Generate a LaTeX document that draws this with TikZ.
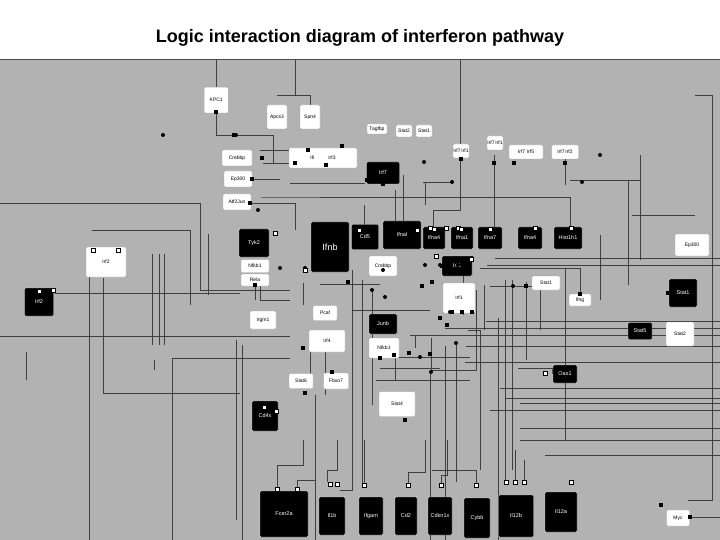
\documentclass[tikz,border=0pt]{standalone}
\usepackage{fontspec}
\setmainfont{Liberation Sans}
\begin{document}
\begin{tikzpicture}[x=1pt,y=-1pt,
 wb/.style={draw=gray!70,fill=white,rounded corners=1pt,inner sep=0pt,font=\fontsize{5}{6}\selectfont},
 bb/.style={draw=gray!40,fill=black,text=white,rounded corners=1pt,inner sep=0pt,font=\fontsize{5.5}{6}\selectfont},
 ln/.style={draw=black!75,line width=0.8pt},
 dt/.style={circle,fill=black,inner sep=0pt,minimum size=4pt},
 pt/.style={fill=black,inner sep=0pt,minimum size=4pt},
 wpt/.style={fill=white,draw=black,inner sep=0pt,minimum size=4pt}]
\useasboundingbox (0,0) rectangle (720,540);
\fill[white] (0,0) rectangle (720,60);
\fill[black!30] (0,60) rectangle (720,540);
\draw[black!70,line width=1pt] (0,60) -- (720,60);
\node[font=\bfseries\fontsize{18}{21}\selectfont] (title) at (360,38) {Logic interaction diagram of interferon pathway};
% ---------- connectors (drawn first) ----------
\coordinate (j1) at (295,95);
\draw[ln] (216,60) -- (216,88);
\draw[ln] (295,60) -- (j1);
\draw[ln] (277,95) -- (310,95) -- (310,105);
\draw[ln] (216,113) -- (216,135) -- (273,135) -- (273,163) -- (295,163);
\draw[ln] (260,150) -- (320,150);
\draw[ln] (263,163) -- (280,163);
\draw[ln] (252,179) -- (280,179);
\draw[ln] (290,183) -- (365,183);
\draw[ln] (250,203) -- (295,203) -- (295,230);
\draw[ln] (460,60) -- (460,210) -- (433,210) -- (433,228);
\draw[ln] (261,197) -- (540,197) -- (570,197);
\draw[ln] (320,197) -- (570,197) -- (570,228);
\draw[ln] (403,175) -- (403,228);
\draw[ln] (395,190) -- (395,228);
\draw[ln] (425,182) -- (425,205);
\draw[ln] (423,182) -- (450,182);
\draw[ln] (565,157) -- (565,185);
\draw[ln] (494,155) -- (494,228);
\draw[ln] (364,205) -- (364,225);
\draw[ln] (0,203) -- (200,203) -- (200,290) -- (290,290);
\draw[ln] (92,230) -- (190,230) -- (190,305);
\draw[ln] (55,293) -- (240,293);
\draw[ln] (0,336) -- (290,336);
\draw[ln] (89,277) -- (89,540);
\draw[ln] (103,278) -- (103,393) -- (240,393);
\draw[ln] (172,358) -- (172,540);
\draw[ln] (172,358) -- (290,358);
\draw[ln] (152,254) -- (152,345);
\draw[ln] (159,254) -- (159,345);
\draw[ln] (164,254) -- (164,345);
\draw[ln] (208,234) -- (208,295);
\draw[ln] (236,340) -- (236,520);
\draw[ln] (242,345) -- (242,540);
\draw[ln] (26,352) -- (26,380);
\draw[ln] (154,360) -- (154,370);
\draw[ln] (260,285) -- (260,300) -- (290,300);
\draw[ln] (255,282) -- (255,300);
\draw[ln] (303,283) -- (303,305);
\draw[ln] (320,284) -- (380,284);
\draw[ln] (325,350) -- (325,395);
\draw[ln] (310,350) -- (310,380);
\draw[ln] (315,395) -- (315,540);
\draw[ln] (352,270) -- (352,490) -- (340,490);
\draw[ln] (362,280) -- (362,485);
\draw[ln] (372,289) -- (372,405);
\draw[ln] (352,310) -- (430,310);
\draw[ln] (395,355) -- (395,380);
\draw[ln] (380,357) -- (470,357);
\draw[ln] (380,368) -- (440,368);
\draw[ln] (376,380) -- (470,380);
\draw[ln] (415,335) -- (415,348);
\draw[ln] (431,338) -- (431,370) -- (476,370) -- (476,290);
\draw[ln] (430,370) -- (430,540);
\draw[ln] (445,346) -- (445,540);
\draw[ln] (456,345) -- (456,482);
\draw[ln] (463,270) -- (463,315);
\draw[ln] (484,285) -- (484,330);
\draw[ln] (468,330) -- (480,330) -- (480,470);
\draw[ln] (498,318) -- (498,540);
\draw[ln] (505,280) -- (505,470);
\draw[ln] (512,280) -- (512,470);
\draw[ln] (490,286) -- (541,286);
\draw[ln] (480,268) -- (580,268) -- (580,294);
\draw[ln] (495,258) -- (720,258);
\draw[ln] (487,265) -- (720,265);
\draw[ln] (486,321) -- (720,321);
\draw[ln] (445,328) -- (720,328);
\draw[ln] (410,335) -- (720,335);
\draw[ln] (466,346) -- (720,346);
\draw[ln] (465,362) -- (720,362);
\draw[ln] (518,368) -- (552,368) -- (552,374);
\draw[ln] (500,388) -- (720,388);
\draw[ln] (505,398) -- (720,398);
\draw[ln] (520,403) -- (720,403);
\draw[ln] (490,410) -- (720,410);
\draw[ln] (520,428) -- (720,428);
\draw[ln] (520,440) -- (720,440);
\draw[ln] (545,455) -- (720,455);
\draw[ln] (526,282) -- (526,360);
\draw[ln] (540,290) -- (540,330);
\draw[ln] (565,268) -- (565,440);
\draw[ln] (600,235) -- (600,300);
\draw[ln] (628,180) -- (628,285);
\draw[ln] (570,180) -- (640,180);
\draw[ln] (632,215) -- (695,215);
\draw[ln] (695,95) -- (712,95) -- (712,500) -- (688,500);
\draw[ln] (720,517) -- (690,517);
\draw[ln] (640,155) -- (640,260);
% bottom connectors
\draw[ln] (277,489) -- (277,465) -- (303,465) -- (303,440);
\draw[ln] (297,489) -- (297,480) -- (315,480) -- (315,440);
\draw[ln] (327,482) -- (327,470) -- (337,470) -- (337,440);
\draw[ln] (364,485) -- (364,440);
\draw[ln] (408,485) -- (408,472) -- (425,472) -- (425,440);
\draw[ln] (441,485) -- (441,475) -- (447,475) -- (447,440);
\draw[ln] (476,485) -- (476,470) -- (432,470);
\draw[ln] (505,482) -- (505,460);
\draw[ln] (515,482) -- (515,450);
\draw[ln] (524,482) -- (524,460);
% ---------- nodes ----------
\node[wb,minimum width=24pt,minimum height=26pt,anchor=north west,align=left] (kpc1) at (204,87) {KPC1};
\node[wb,minimum width=20pt,minimum height=24pt] (apcs3) at (277,117) {Apcs3};
\node[wb,minimum width=20pt,minimum height=24pt] (spn4) at (310,117) {Spn4};
\node[wb,minimum width=30pt,minimum height=16pt] (crebbp) at (237,158) {Crebbp};
\node[wb,minimum width=28pt,minimum height=16pt] (ep300a) at (238,179) {Ep300};
\node[wb,minimum width=28pt,minimum height=16pt] (atf2) at (237,202) {Atf2Jun};
\node[wb,minimum width=68pt,minimum height=20pt] (ifi) at (323,158) {Ifi\hspace{14pt}Irf3};
\node[wb,minimum width=20pt,minimum height=10pt] (tag) at (377,129) {Tagfbp};
\node[wb,minimum width=16pt,minimum height=12pt] (stat2a) at (404,131) {Stat2};
\node[wb,minimum width=16pt,minimum height=12pt] (stat1a) at (424,131) {Stat1};
\node[bb,minimum width=33pt,minimum height=22pt] (irf7b) at (383,173) {Irf7};
\node[wb,minimum width=16pt,minimum height=14pt] (p1) at (461,151) {Irf7\,Irf1};
\node[wb,minimum width=16pt,minimum height=14pt] (p2) at (495,143) {Irf7\,Irf1};
\node[wb,minimum width=34pt,minimum height=14pt] (p3) at (526,152) {Irf7\,\,Irf5};
\node[wb,minimum width=27pt,minimum height=14pt] (p4) at (565,152) {Irf7\,Irf2};
\node[bb,minimum width=30pt,minimum height=28pt] (tyk2) at (254,243) {Tyk2};
\node[bb,minimum width=38pt,minimum height=50pt] (ifnb) at (330,247) {\fontsize{9}{9}\selectfont Ifnb};
\node[bb,minimum width=27pt,minimum height=25pt] (cd5) at (365,237) {Cd5};
\node[bb,minimum width=38pt,minimum height=28pt] (ifnal) at (402,235) {Ifnal};
\node[bb,minimum width=22pt,minimum height=22pt] (ifna4) at (434,238) {Ifna4};
\node[bb,minimum width=22pt,minimum height=22pt] (ifna1) at (462,238) {Ifna1};
\node[bb,minimum width=24pt,minimum height=22pt] (ifna7) at (490,238) {Ifna7};
\node[bb,minimum width=24pt,minimum height=22pt] (ifna5) at (530,238) {Ifna4};
\node[bb,minimum width=28pt,minimum height=22pt] (hist) at (568,238) {Hist1h1};
\node[wb,minimum width=28pt,minimum height=13pt] (nfkb1) at (255,266) {Nfkb1};
\node[wb,minimum width=28pt,minimum height=12pt] (rela) at (255,280) {Rela};
\node[wb,minimum width=28pt,minimum height=20pt] (creb2) at (383,266) {Crebbp};
\node[bb,minimum width=30pt,minimum height=20pt] (irf1b) at (457,266) {Irf1};
\node[wb,minimum width=32pt,minimum height=30pt] (irf1w) at (459,298) {Irf1};
\node[wb,minimum width=28pt,minimum height=14pt] (stat1w) at (546,283) {Stat1};
\node[wb,minimum width=22pt,minimum height=12pt] (ifng) at (580,300) {Ifng};
\node[bb,minimum width=28pt,minimum height=28pt] (stat1b) at (683,293) {Stat1};
\node[wb,minimum width=34pt,minimum height=22pt] (ep300b) at (692,245) {Ep300};
\node[bb,minimum width=29pt,minimum height=28pt] (irf2b) at (39,302) {Irf2};
\node[wb,minimum width=40pt,minimum height=30pt] (irf2w) at (106,262) {Irf2};
\node[wb,minimum width=26pt,minimum height=18pt] (irgm) at (263,320) {Irgm1};
\node[wb,minimum width=24pt,minimum height=15pt] (pcaf) at (325,313) {Pcaf};
\node[bb,minimum width=28pt,minimum height=20pt] (junb) at (383,324) {Junb};
\node[wb,minimum width=30pt,minimum height=20pt] (nfkbia) at (384,348) {Nfkb1};
\node[wb,minimum width=36pt,minimum height=22pt] (irf4) at (327,341) {Irf4};
\node[wb,minimum width=24pt,minimum height=15pt] (stat6) at (301,381) {Stat6};
\node[wb,minimum width=25pt,minimum height=16pt] (fbxo) at (336,381) {Fbxo7};
\node[wb,minimum width=36pt,minimum height=25pt] (stat4) at (397,404) {Stat4};
\node[bb,minimum width=24pt,minimum height=17pt] (stat5) at (640,331) {Stat5};
\node[wb,minimum width=28pt,minimum height=24pt] (stat2b) at (680,334) {Stat2};
\node[bb,minimum width=24pt,minimum height=18pt] (oas1) at (565,374) {Oas1};
\node[bb,minimum width=26pt,minimum height=30pt] (cd4) at (265,416) {Cd4x};
\node[bb,minimum width=48pt,minimum height=46pt] (fcer) at (284,514) {Fcer2a};
\node[bb,minimum width=26pt,minimum height=38pt] (il1b) at (332,516) {Il1b};
\node[bb,minimum width=24pt,minimum height=38pt] (ifgm) at (371,516) {Ifgam};
\node[bb,minimum width=22pt,minimum height=38pt] (cd2) at (406,516) {Cd2};
\node[bb,minimum width=24pt,minimum height=38pt] (cdk) at (440,516) {Cdkn1x};
\node[bb,minimum width=26pt,minimum height=40pt] (cybb) at (477,518) {Cybb};
\node[bb,minimum width=35pt,minimum height=42pt] (il12b) at (516,516) {Il12b};
\node[bb,minimum width=32pt,minimum height=40pt] (il12a) at (561,512) {Il12a};
\node[wb,minimum width=23pt,minimum height=16pt] (myc) at (678,518) {Myc};
% ---------- ports / dots ----------
\foreach \p in {(216,112),(234,135),(295,163),(262,158),(252,179),(250,203),(308,150),(342,146),(326,165),
 (367,180),(461,159),(494,163),(514,163),(565,163),(383,184),(255,285),(422,286),(452,312),(462,312),(472,312),
 (442,266),(580,294),(526,286),(668,293),(661,505),(690,517),(348,282),(432,282),(305,393),(332,372),(405,420),
 (430,354),(447,325),(303,348),(380,358),(409,353),(394,355),(440,318)}
 \node[pt] at \p {};
\foreach \p in {(163,135),(236,135),(258,210),(280,268),(305,268),(425,265),(440,265),(458,265),(472,258),
 (513,286),(450,312),(431,372),(385,297),(456,343),(420,357),(600,155),(582,182),(383,270),(372,290),
 (424,162),(452,182)}
 \node[dt] at \p {};
\foreach \p in {(417,230),(430,228),(446,228),(458,228),(434,229),(461,229),(490,229),(535,228),(571,228),
 (275,233),(359,230),(305,270),(277,489),(297,489),(330,484),(337,484),(364,485),(408,485),(441,485),(476,485),
 (506,482),(515,482),(524,482),(571,482),(545,373),(436,256),(471,259),(39,291),(53,290),(93,250),(118,250),
 (264,407),(276,411)}
 \node[wpt] at \p {};
\end{tikzpicture}
\end{document}
